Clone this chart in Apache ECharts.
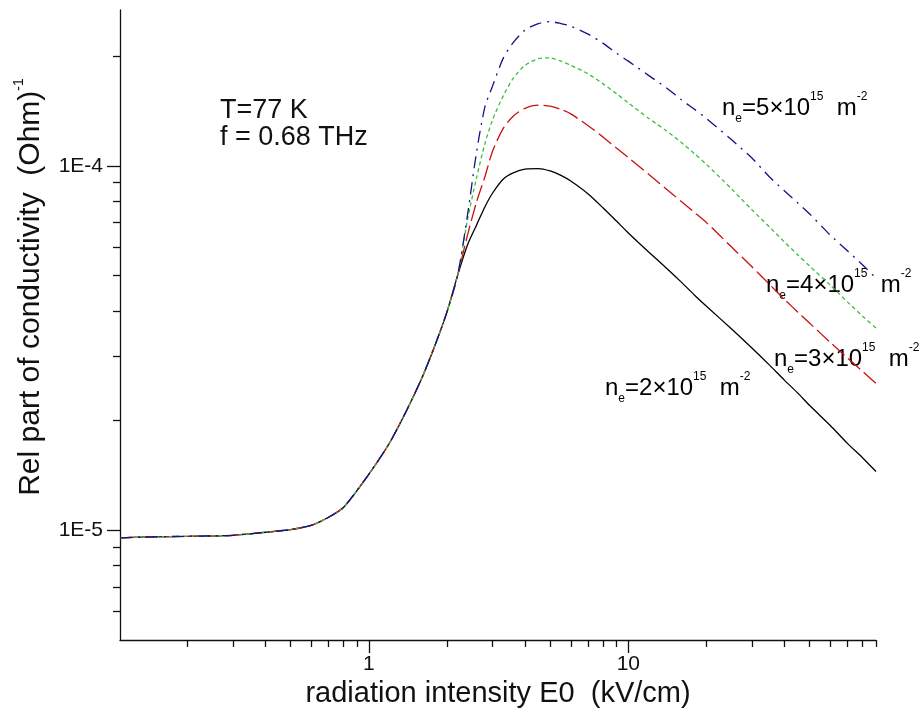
<!DOCTYPE html>
<html>
<head>
<meta charset="utf-8">
<script src="https://cdn.jsdelivr.net/npm/echarts@6/dist/echarts.min.js"></script>
<style>
html,body{margin:0;padding:0;background:#fff;}
#chart{width:921px;height:717px;}
</style>
</head>
<body>
<div id="chart"></div>
<script>
// ---- data ----
const E0 = [0.11,0.15,0.2,0.3,0.4,0.5,0.6,0.7,0.8,1.0,1.2,1.4,1.6,1.8,2.0,2.2,2.4,2.6,2.8,3.0,3.3,3.6,4.0,4.5,5,5.5,6,7,8,9,10,12,14,16,18,20,25,30,35,40,45,50,60,70,80,90];

const sigma_ne2 = [9.54e-6,9.60e-6,9.63e-6,9.69e-6,9.88e-6,1.005e-5,1.032e-5,1.086e-5,1.157e-5,1.425e-5,1.734e-5,2.136e-5,2.616e-5,3.223e-5,3.971e-5,5.018e-5,
  6.07e-5,6.88e-5,7.72e-5,8.43e-5,9.21e-5,9.57e-5,9.81e-5,9.84e-5,9.69e-5,9.42e-5,9.09e-5,8.38e-5,7.67e-5,7.06e-5,6.55e-5,5.80e-5,5.25e-5,4.80e-5,4.42e-5,4.12e-5,3.57e-5,3.16e-5,2.84e-5,2.58e-5,2.38e-5,2.20e-5,1.94e-5,1.73e-5,1.58e-5,1.45e-5];
const sigma_ne3 = [9.54e-6,9.60e-6,9.63e-6,9.69e-6,9.88e-6,1.005e-5,1.032e-5,1.086e-5,1.157e-5,1.425e-5,1.734e-5,2.136e-5,2.616e-5,3.223e-5,3.971e-5,5.018e-5,
  6.46e-5,7.96e-5,9.33e-5,1.10e-4,1.27e-4,1.37e-4,1.44e-4,1.47e-4,1.46e-4,1.43e-4,1.39e-4,1.29e-4,1.20e-4,1.12e-4,1.055e-4,9.48e-5,8.65e-5,7.99e-5,7.45e-5,6.99e-5,5.99e-5,5.28e-5,4.73e-5,4.30e-5,3.97e-5,3.70e-5,3.28e-5,2.97e-5,2.73e-5,2.53e-5];
const sigma_ne4 = [9.54e-6,9.60e-6,9.63e-6,9.69e-6,9.88e-6,1.005e-5,1.032e-5,1.086e-5,1.157e-5,1.425e-5,1.734e-5,2.136e-5,2.616e-5,3.223e-5,3.971e-5,5.018e-5,
  7.11e-5,9.27e-5,1.15e-4,1.34e-4,1.56e-4,1.74e-4,1.89e-4,1.97e-4,1.98e-4,1.94e-4,1.89e-4,1.79e-4,1.68e-4,1.58e-4,1.49e-4,1.35e-4,1.25e-4,1.16e-4,1.08e-4,1.01e-4,8.65e-5,7.57e-5,6.80e-5,6.18e-5,5.70e-5,5.31e-5,4.71e-5,4.23e-5,3.87e-5,3.59e-5];
const sigma_ne5 = [9.54e-6,9.60e-6,9.63e-6,9.69e-6,9.88e-6,1.005e-5,1.032e-5,1.086e-5,1.157e-5,1.425e-5,1.734e-5,2.136e-5,2.616e-5,3.223e-5,3.971e-5,5.018e-5,
  7.33e-5,1.09e-4,1.45e-4,1.66e-4,1.98e-4,2.18e-4,2.36e-4,2.46e-4,2.49e-4,2.46e-4,2.42e-4,2.30e-4,2.17e-4,2.04e-4,1.94e-4,1.77e-4,1.64e-4,1.52e-4,1.43e-4,1.35e-4,1.18e-4,1.05e-4,9.33e-5,8.54e-5,7.91e-5,7.38e-5,6.46e-5,5.84e-5,5.35e-5,4.92e-5];

const xRange = [0.11, 90];
const yRange = [5e-6, 2.68e-4];
const xMajorTicks = [1, 10];
const xMinorTicks = [0.2,0.3,0.4,0.5,0.6,0.7,0.8,0.9,2,3,4,5,6,7,8,9,20,30,40,50,60,70,80,90];
const yMajorTicks = [1e-5, 1e-4];
const yMinorTicks = [6e-6,7e-6,8e-6,9e-6,2e-5,3e-5,4e-5,5e-5,6e-5,7e-5,8e-5,9e-5,2e-4];

// ---- build ----
const L = Math.log10;
const FONT = "'Liberation Sans', Arial, sans-serif";
function pts(ys){ return E0.map((x,i)=>[L(x), L(ys[i])]); }
function fmtX(v){ return String(Math.round(Math.pow(10, v))); }
function fmtY(v){ return '1E' + Math.round(v); }

const baseX = { type:'value', min:L(xRange[0]), max:L(xRange[1]), position:'bottom', splitLine:{show:false} };
const baseY = { type:'value', min:L(yRange[0]), max:L(yRange[1]), position:'left', splitLine:{show:false} };

const chart = echarts.init(document.getElementById('chart'), null, {renderer:'canvas'});

const richLbl = {
  m:{fontSize:24, fontFamily:FONT, color:'#111', lineHeight:34},
  sub:{fontSize:12, fontFamily:FONT, color:'#111', verticalAlign:'bottom', lineHeight:12},
  sup:{fontSize:12, fontFamily:FONT, color:'#111', verticalAlign:'top', lineHeight:14}
};
function neText(k){ return '{m|n}{sub|e}{m|=' + k + '×10}{sup|15}{m|  m}{sup|-2}'; }
function lbl(x, y, k){
  return { type:'text', left:x, top:y, style:{ text:neText(k), rich:richLbl, font:'24px '+FONT } };
}
const tickStyle = {color:'#111', width:1.3};

chart.setOption({
  animation:false,
  backgroundColor:'#fff',
  grid:{ left:120, right:45, top:10, bottom:77, containLabel:false, outerBoundsMode:'none' },
  xAxis:[
    Object.assign({}, baseX, {
      axisLine:{show:true, onZero:false, lineStyle:tickStyle},
      axisTick:{show:true, inside:false, length:13, customValues:xMajorTicks.map(L), lineStyle:tickStyle},
      axisLabel:{show:true, customValues:xMajorTicks.map(L), formatter:fmtX, margin:14, fontSize:21, fontFamily:FONT, color:'#111'},
      name:'radiation intensity E0  (kV/cm)', nameLocation:'middle', nameGap:26,
      nameTextStyle:{fontSize:29, fontFamily:FONT, color:'#111'}
    }),
    Object.assign({}, baseX, {
      axisLine:{show:false, onZero:false},
      axisTick:{show:true, inside:false, length:7, customValues:xMinorTicks.map(L), lineStyle:tickStyle},
      axisLabel:{show:false}
    })
  ],
  yAxis:[
    Object.assign({}, baseY, {
      axisLine:{show:true, onZero:false, lineStyle:tickStyle},
      axisTick:{show:true, inside:false, length:13, customValues:yMajorTicks.map(L), lineStyle:tickStyle},
      axisLabel:{show:true, customValues:yMajorTicks.map(L), formatter:fmtY, margin:17, fontSize:21, fontFamily:FONT, color:'#111'},
      name:'{a|Rel part of conductivity  (Ohm)}{s|-1}', nameLocation:'middle', nameGap:70, nameRotate:90,
      nameTextStyle:{ fontSize:30, fontFamily:FONT, color:'#111', padding:[0,0,0,76],
        rich:{ a:{fontSize:30, fontFamily:FONT, color:'#111', lineHeight:38}, s:{fontSize:14, fontFamily:FONT, color:'#111', verticalAlign:'top', lineHeight:15} } }
    }),
    Object.assign({}, baseY, {
      axisLine:{show:false, onZero:false},
      axisTick:{show:true, inside:false, length:7, customValues:yMinorTicks.map(L), lineStyle:tickStyle},
      axisLabel:{show:false}
    })
  ],
  series:[
    { name:'ne=2', type:'line', xAxisIndex:0, yAxisIndex:0, data:pts(sigma_ne2), showSymbol:false, smooth:0.25,
      lineStyle:{color:'#000', width:1.3, type:'solid'} },
    { name:'ne=3', type:'line', xAxisIndex:0, yAxisIndex:0, data:pts(sigma_ne3), showSymbol:false, smooth:0.25,
      lineStyle:{color:'#cc1010', width:1.3, type:[16,5]} },
    { name:'ne=4', type:'line', xAxisIndex:0, yAxisIndex:0, data:pts(sigma_ne4), showSymbol:false, smooth:0.25,
      lineStyle:{color:'#3cbf3c', width:1.3, type:[4,3]} },
    { name:'ne=5', type:'line', xAxisIndex:0, yAxisIndex:0, data:pts(sigma_ne5), showSymbol:false, smooth:0.25,
      lineStyle:{color:'#12128c', width:1.3, type:[12,6,2,6]} }
  ],
  graphic:[
    { type:'text', left:220, top:97, style:{ text:'T=77 K', font:'27px '+FONT, fill:'#111' } },
    { type:'text', left:220, top:124, style:{ text:'f = 0.68 THz', font:'27px '+FONT, fill:'#111' } },
    lbl(722, 91, 5),
    lbl(766, 268, 4),
    lbl(774, 342, 3),
    lbl(605, 371, 2)
  ]
});
</script>
</body>
</html>
